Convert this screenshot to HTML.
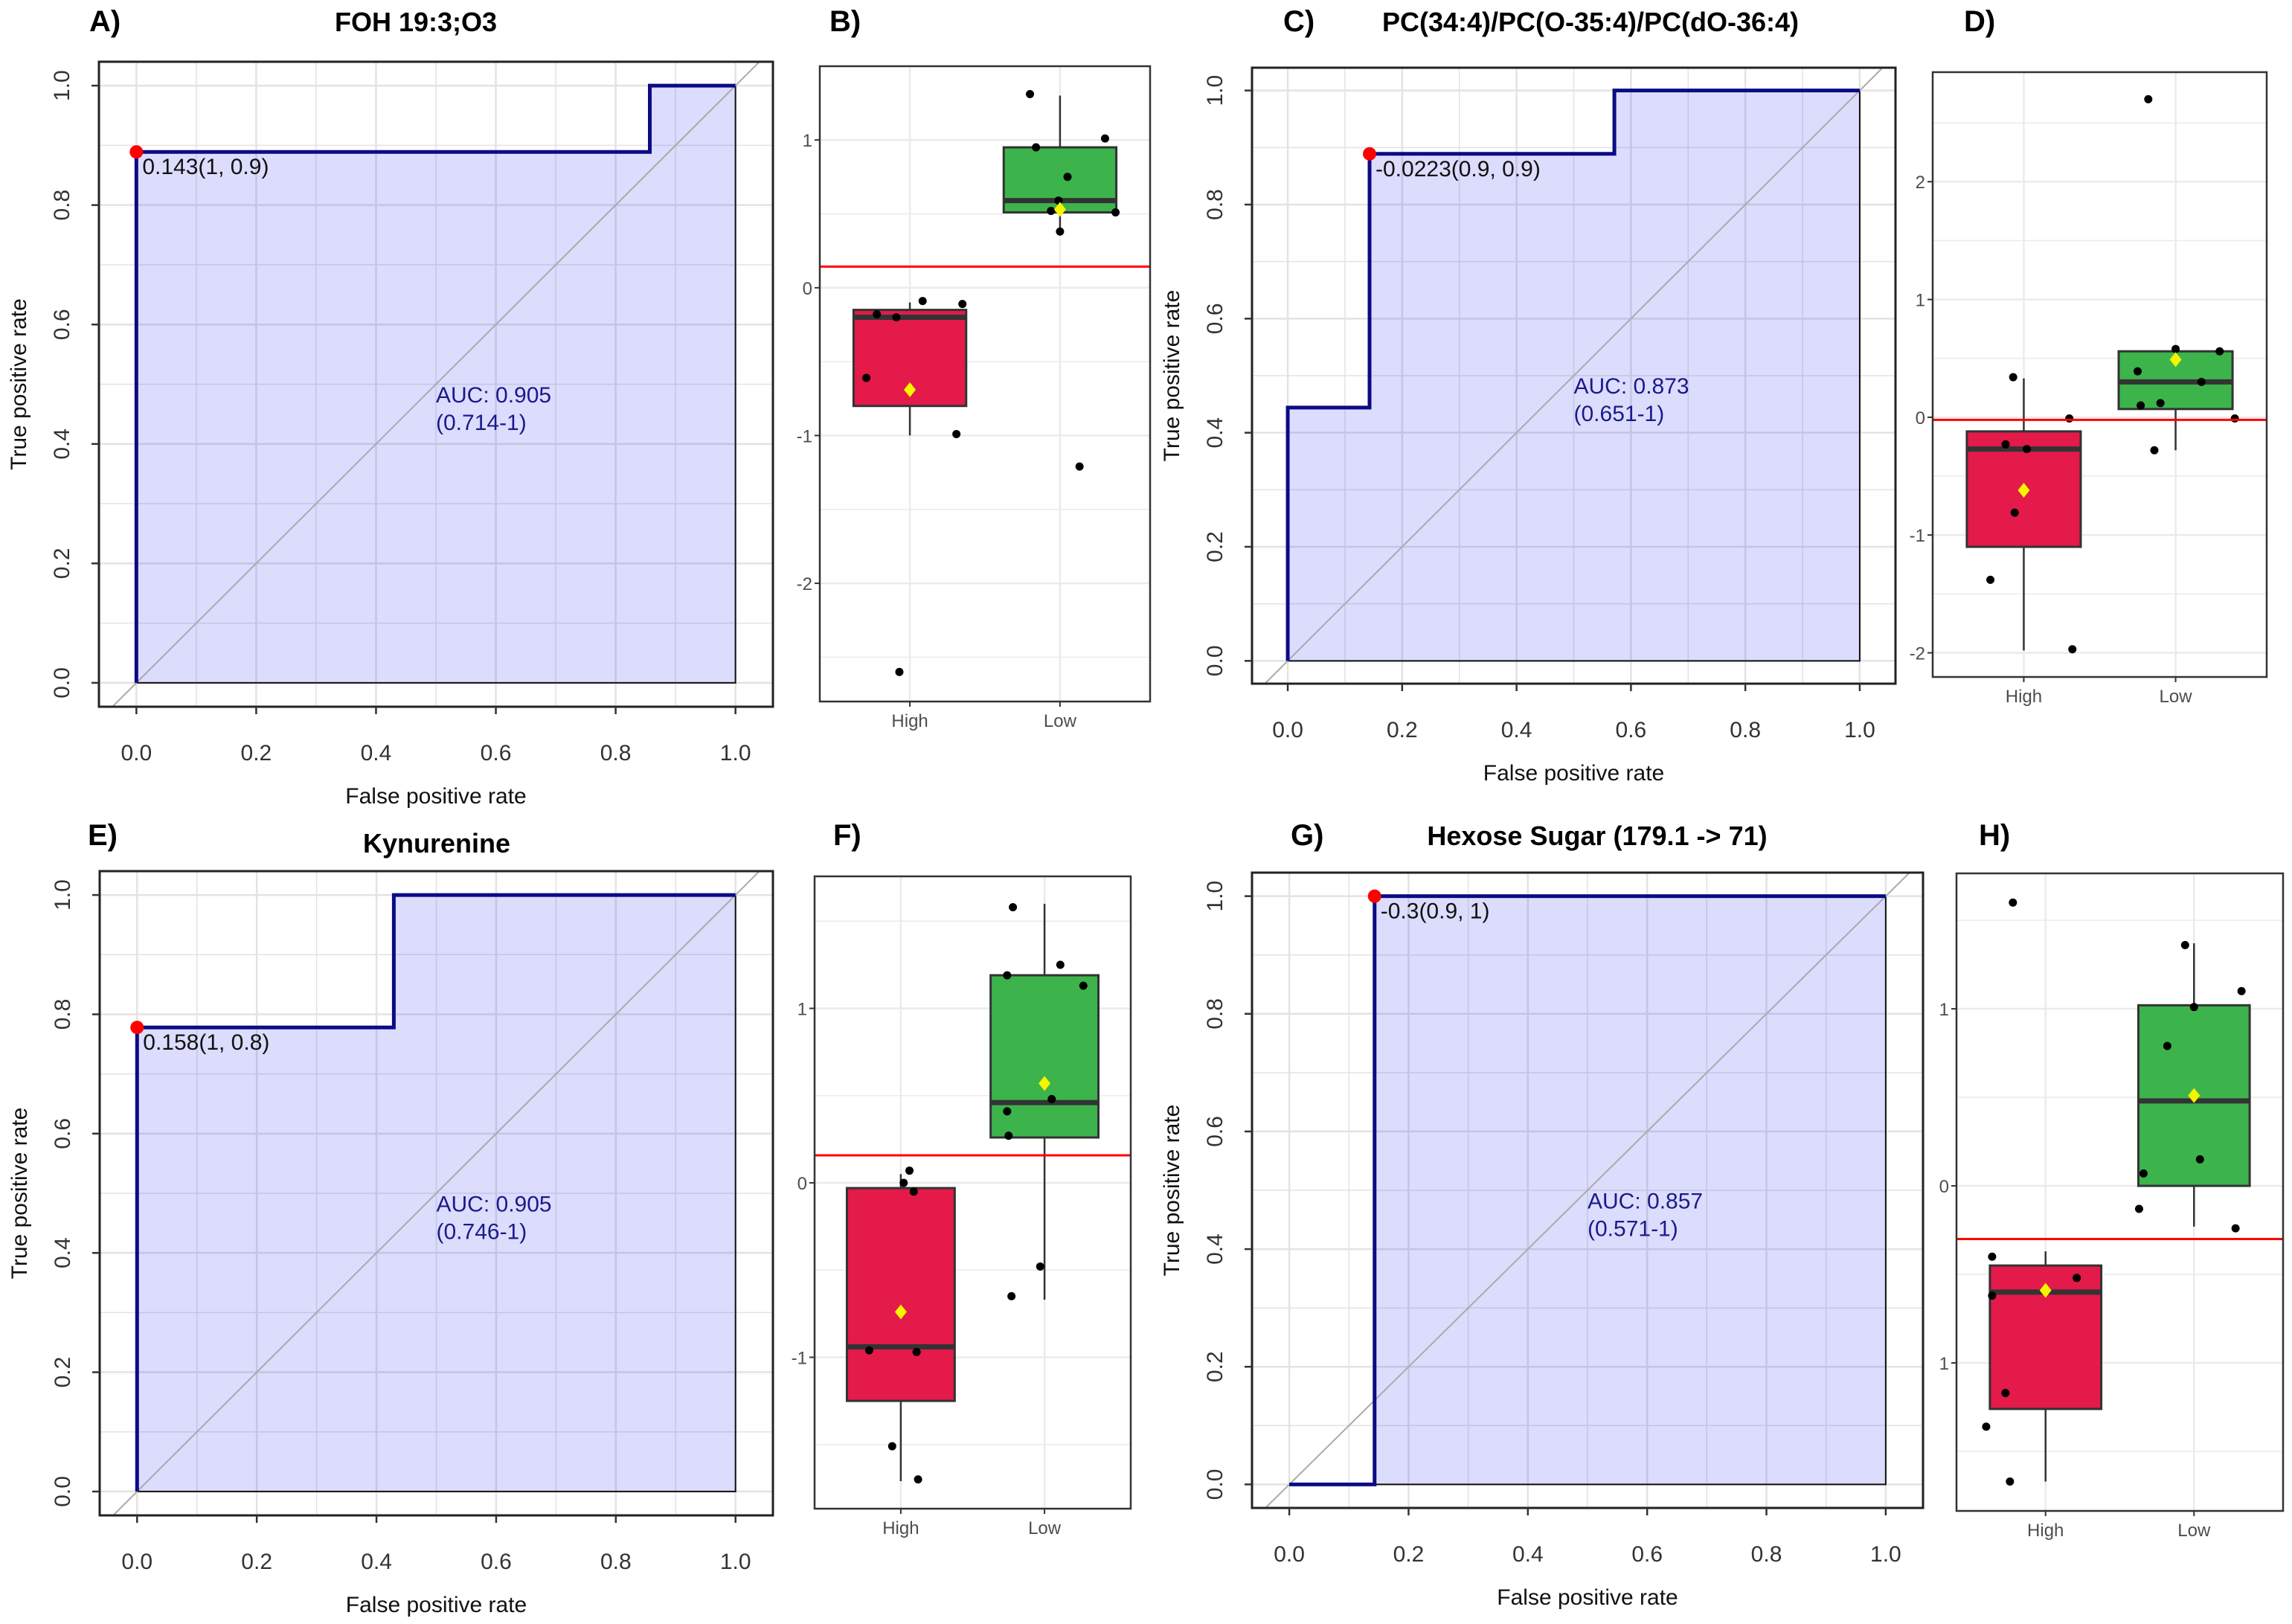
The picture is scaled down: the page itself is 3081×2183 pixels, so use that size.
<!DOCTYPE html>
<html><head><meta charset="utf-8"><style>
html,body{margin:0;padding:0;background:#fff;}
svg{display:block;font-family:"Liberation Sans",Arial,sans-serif;}
.pl{font-size:40px;font-weight:bold;}
.tt{font-size:36px;font-weight:bold;}
.at{font-size:30px;fill:#111;}
</style></head><body>
<svg id="fig" width="3081" height="2183" viewBox="0 0 3081 2183" xmlns="http://www.w3.org/2000/svg">
<text class="pl" x="120" y="42">A)</text>
<text class="tt" x="559" y="42" text-anchor="middle">FOH 19:3;O3</text>
<text class="pl" x="1115" y="42">B)</text>
<text class="pl" x="1725" y="42">C)</text>
<text class="tt" x="2138" y="42" text-anchor="middle">PC(34:4)/PC(O-35:4)/PC(dO-36:4)</text>
<text class="pl" x="2640" y="42">D)</text>
<text class="pl" x="118" y="1136">E)</text>
<text class="tt" x="587" y="1146" text-anchor="middle">Kynurenine</text>
<text class="pl" x="1120" y="1136">F)</text>
<text class="pl" x="1735" y="1136">G)</text>
<text class="tt" x="2147" y="1136" text-anchor="middle">Hexose Sugar (179.1 -&gt; 71)</text>
<text class="pl" x="2660" y="1136">H)</text>
</svg>
<script>
// ROC data
const rocA_fpr=[0,0,0.857,0.857,1];
const rocA_tpr=[0,0.889,0.889,1,1];
const rocA_best=[0,0.889];
const rocA_label="0.143(1, 0.9)";
const rocA_auc=["AUC: 0.905","(0.714-1)"];
const rocC_fpr=[0,0,0.143,0.143,0.571,0.571,1];
const rocC_tpr=[0,0.444,0.444,0.889,0.889,1,1];
const rocC_best=[0.143,0.889];
const rocC_label="-0.0223(0.9, 0.9)";
const rocC_auc=["AUC: 0.873","(0.651-1)"];
const rocE_fpr=[0,0,0.429,0.429,1];
const rocE_tpr=[0,0.778,0.778,1,1];
const rocE_best=[0,0.778];
const rocE_label="0.158(1, 0.8)";
const rocE_auc=["AUC: 0.905","(0.746-1)"];
const rocG_fpr=[0,0.143,0.143,1];
const rocG_tpr=[0,0,1,1];
const rocG_best=[0.143,1];
const rocG_label="-0.3(0.9, 1)";
const rocG_auc=["AUC: 0.857","(0.571-1)"];
const rocTicks=["0.0","0.2","0.4","0.6","0.8","1.0"];

// Box plot data: stats = [lowerWhisker, q1, median, q3, upperWhisker, mean]
const boxGroups=["High","Low"];
const boxB_highStats=[-1.0,-0.8,-0.2,-0.15,-0.1,-0.69];
const boxB_lowStats=[0.38,0.51,0.59,0.95,1.3,0.53];
const boxB_highVals=[-0.18,-0.2,-0.09,-0.11,-0.61,-0.99,-2.6];
const boxB_highJit=[-0.22,-0.09,0.085,0.35,-0.29,0.31,-0.07];
const boxB_lowVals=[1.31,0.95,1.01,0.75,0.59,0.52,0.51,0.38,-1.21];
const boxB_lowJit=[-0.2,-0.16,0.3,0.05,-0.01,-0.06,0.37,0,0.13];
const boxB_cut=0.143;
const boxB_ticks=[-2,-1,0,1];
const boxB_tickLabels=["-2","-1","0","1"];

const boxD_highStats=[-1.98,-1.1,-0.27,-0.12,0.33,-0.62];
const boxD_lowStats=[-0.28,0.07,0.3,0.56,0.56,0.49];
const boxD_highVals=[0.34,-0.01,-0.23,-0.27,-0.81,-1.38,-1.97];
const boxD_highJit=[-0.07,0.3,-0.12,0.02,-0.06,-0.22,0.32];
const boxD_lowVals=[2.7,0.58,0.56,0.39,0.3,0.1,0.12,-0.01,-0.28];
const boxD_lowJit=[-0.18,0,0.29,-0.25,0.17,-0.23,-0.1,0.39,-0.14];
const boxD_cut=-0.0223;
const boxD_ticks=[-2,-1,0,1,2];
const boxD_tickLabels=["-2","-1","0","1","2"];

const boxF_highStats=[-1.71,-1.25,-0.94,-0.03,0.05,-0.74];
const boxF_lowStats=[-0.67,0.26,0.46,1.19,1.6,0.57];
const boxF_highVals=[0.07,0.0,-0.05,-0.96,-0.97,-1.51,-1.7];
const boxF_highJit=[0.06,0.02,0.09,-0.22,0.11,-0.06,0.12];
const boxF_lowVals=[1.58,1.25,1.19,1.13,0.48,0.41,0.27,-0.48,-0.65];
const boxF_lowJit=[-0.22,0.11,-0.26,0.27,0.05,-0.26,-0.25,-0.03,-0.23];
const boxF_cut=0.158;
const boxF_ticks=[-1,0,1];
const boxF_tickLabels=["-1","0","1"];

const boxH_highStats=[-1.67,-1.26,-0.6,-0.45,-0.37,-0.59];
const boxH_lowStats=[-0.23,0.0,0.48,1.02,1.37,0.51];
const boxH_highVals=[1.6,-0.4,-0.52,-0.62,-1.17,-1.36,-1.67];
const boxH_highJit=[-0.22,-0.36,0.21,-0.36,-0.27,-0.4,-0.24];
const boxH_lowVals=[1.36,1.1,1.01,0.79,0.15,0.07,-0.13,-0.24];
const boxH_lowJit=[-0.06,0.32,0,-0.18,0.04,-0.34,-0.37,0.28];
const boxH_cut=-0.3;
const boxH_ticks=[-1,0,1];
const boxH_tickLabels=["1","0","1"];

const NS="http://www.w3.org/2000/svg";
const fig=document.getElementById('fig');
function mk(tag,attrs,parent){const e=document.createElementNS(NS,tag);for(const k in attrs)e.setAttribute(k,attrs[k]);(parent||fig).appendChild(e);return e;}

function drawRoc(id,L,T,R,B,fpr,tpr,best,lab,auc){
  const x0=-0.0625,x1=1.0625,y0=-0.04,y1=1.04;
  const sx=v=>L+(v-x0)/(x1-x0)*(R-L);
  const sy=v=>B-(v-y0)/(y1-y0)*(B-T);
  const g=mk('g',{});
  
  
  const cp=mk('clipPath',{id:'clip'+id},g);
  mk('rect',{x:L,y:T,width:R-L,height:B-T},cp);
  for(let i=0;i<=10;i++){const v=i/10;const major=i%2===0;
    const gx=mk('line',{x1:sx(v),x2:sx(v),y1:T,y2:B,stroke:'#e3e3e3','stroke-width':major?2.5:1.5},g);
    
    
    const gy=mk('line',{x1:L,x2:R,y1:sy(v),y2:sy(v),stroke:'#e3e3e3','stroke-width':major?2.5:1.5},g);
    
    }
  let d='M'+sx(fpr[0])+','+sy(0);
  for(let i=0;i<fpr.length;i++)d+=' L'+sx(fpr[i])+','+sy(tpr[i]);
  d+=' L'+sx(1)+','+sy(0)+' Z';
  const area=mk('path',{d:d,fill:'rgba(40,40,240,0.16)',stroke:'#111','stroke-width':2},g);
  
  
  const diag=mk('line',{x1:sx(-0.2),y1:sy(-0.2),x2:sx(1.2),y2:sy(1.2),stroke:'#aaa','stroke-width':2,'clip-path':'url(#clip'+id+')'},g);
  
  
  let pd='';
  for(let i=0;i<fpr.length;i++)pd+=(i?' L':'M')+sx(fpr[i])+','+sy(tpr[i]);
  const curve=mk('path',{d:pd,fill:'none',stroke:'#0b0b85','stroke-width':5},g);
  
  
  const dot=mk('circle',{cx:sx(best[0]),cy:sy(best[1]),r:9,fill:'#f00'},g);
  
  
  const tl=mk('text',{x:sx(best[0])+8,y:sy(best[1])+30,'font-size':30,fill:'#111'},g);
  tl.textContent=lab;
  
  
  for(let i=0;i<auc.length;i++){
    const at=mk('text',{x:sx(0.5),y:sy(0.483)+11+i*37,'font-size':30,fill:'#1a1a8c'},g);
    at.textContent=auc[i];
    
    }
  const fr=mk('rect',{x:L,y:T,width:R-L,height:B-T,fill:'none',stroke:'#222','stroke-width':3},g);
  
  
  for(let i=0;i<rocTicks.length;i++){const v=i*0.2;
    mk('line',{x1:sx(v),x2:sx(v),y1:B,y2:B+10,stroke:'#333','stroke-width':2.5},g);
    const xl=mk('text',{x:sx(v),y:B+72,'font-size':30,'text-anchor':'middle',fill:'#333'},g);
    xl.textContent=rocTicks[i];
    
    
    mk('line',{x1:L-10,x2:L,y1:sy(v),y2:sy(v),stroke:'#333','stroke-width':2.5},g);
    const yl=mk('text',{x:L-40,y:sy(v),'font-size':30,'text-anchor':'middle',fill:'#333',transform:'rotate(-90 '+(L-40)+' '+sy(v)+')'},g);
    yl.textContent=rocTicks[i];
    
    }
  const xt=mk('text',{x:(L+R)/2,y:B+130,'font-size':30,'text-anchor':'middle',fill:'#111'},g);
  xt.textContent='False positive rate';
  
  
  const yc=(T+B)/2;
  const yt=mk('text',{x:L-98,y:yc,'font-size':30,'text-anchor':'middle',fill:'#111',transform:'rotate(-90 '+(L-98)+' '+yc+')'},g);
  yt.textContent='True positive rate';
  
  
}

function drawBox(id,L,T,R,B,ymin,ymax,stats,vals,jits,cut,ticks,tickLabels){
  const sx=v=>L+(v-0.4)/2.2*(R-L);
  const sy=v=>B-(v-ymin)/(ymax-ymin)*(B-T);
  const g=mk('g',{});
  
  
  for(let t=Math.ceil(ymin*2)/2;t<=ymax;t+=0.5){const major=Math.abs(t-Math.round(t))<1e-6;
    const gl=mk('line',{x1:L,x2:R,y1:sy(t),y2:sy(t),stroke:'#ebebeb','stroke-width':major?2.5:1.5},g);
    
    }
  for(let k=0;k<2;k++){
    const gv=mk('line',{x1:sx(k+1),x2:sx(k+1),y1:T,y2:B,stroke:'#ebebeb','stroke-width':2.5},g);
    
    }
  const cols=['#e31a4a','#3cb44b'];
  for(let k=0;k<2;k++){const s=stats[k];const cx=sx(k+1);const hw=(R-L)/2.2*0.375;
    const wh=mk('line',{x1:cx,x2:cx,y1:sy(s[0]),y2:sy(s[4]),stroke:'#333','stroke-width':2.5},g);
    
    
    const bx=mk('rect',{x:cx-hw,y:sy(s[3]),width:2*hw,height:sy(s[1])-sy(s[3]),fill:cols[k],stroke:'#333','stroke-width':3},g);
    
    
    const md=mk('line',{x1:cx-hw,x2:cx+hw,y1:sy(s[2]),y2:sy(s[2]),stroke:'#333','stroke-width':7},g);
    
    
  }
  for(let k=0;k<2;k++){
    for(let i=0;i<vals[k].length;i++){
      const p=mk('circle',{cx:sx(k+1+jits[k][i]),cy:sy(vals[k][i]),r:5.5,fill:'#000'},g);
      
      }
    const mx=sx(k+1),my=sy(stats[k][5]);
    const dm=mk('polygon',{points:(mx)+','+(my-10)+' '+(mx+8)+','+my+' '+mx+','+(my+10)+' '+(mx-8)+','+my,fill:'#f5f500'},g);
    
    }
  const cl=mk('line',{x1:L,x2:R,y1:sy(cut),y2:sy(cut),stroke:'#f00','stroke-width':3},g);
  
  
  const fr=mk('rect',{x:L,y:T,width:R-L,height:B-T,fill:'none',stroke:'#333','stroke-width':2.5},g);
  
  
  for(let i=0;i<ticks.length;i++){
    mk('line',{x1:L-7,x2:L,y1:sy(ticks[i]),y2:sy(ticks[i]),stroke:'#333','stroke-width':2},g);
    const tl=mk('text',{x:L-10,y:sy(ticks[i])+9,'font-size':24,'text-anchor':'end',fill:'#4d4d4d'},g);
    tl.textContent=tickLabels[i];
    
    }
  for(let k=0;k<2;k++){
    mk('line',{x1:sx(k+1),x2:sx(k+1),y1:B,y2:B+7,stroke:'#333','stroke-width':2},g);
    const xl=mk('text',{x:sx(k+1),y:B+34,'font-size':24,'text-anchor':'middle',fill:'#4d4d4d'},g);
    xl.textContent=boxGroups[k];
    
    }
}

drawRoc('a',133,83,1039,950,rocA_fpr,rocA_tpr,rocA_best,rocA_label,rocA_auc);
drawRoc('c',1683,91,2548,919,rocC_fpr,rocC_tpr,rocC_best,rocC_label,rocC_auc);
drawRoc('e',134,1171,1039,2037,rocE_fpr,rocE_tpr,rocE_best,rocE_label,rocE_auc);
drawRoc('g',1683,1173,2585,2027,rocG_fpr,rocG_tpr,rocG_best,rocG_label,rocG_auc);
drawBox('b',1102,89,1546,943,-2.80,1.499,[boxB_highStats,boxB_lowStats],[boxB_highVals,boxB_lowVals],[boxB_highJit,boxB_lowJit],boxB_cut,boxB_ticks,boxB_tickLabels);
drawBox('d',2598,97,3047,910,-2.205,2.93,[boxD_highStats,boxD_lowStats],[boxD_highVals,boxD_lowVals],[boxD_highJit,boxD_lowJit],boxD_cut,boxD_ticks,boxD_tickLabels);
drawBox('f',1095,1178,1520,2028,-1.868,1.757,[boxF_highStats,boxF_lowStats],[boxF_highVals,boxF_lowVals],[boxF_highJit,boxF_lowJit],boxF_cut,boxF_ticks,boxF_tickLabels);
drawBox('h',2630,1174,3069,2031,-1.836,1.765,[boxH_highStats,boxH_lowStats],[boxH_highVals,boxH_lowVals],[boxH_highJit,boxH_lowJit],boxH_cut,boxH_ticks,boxH_tickLabels);
</script>
</body></html>
